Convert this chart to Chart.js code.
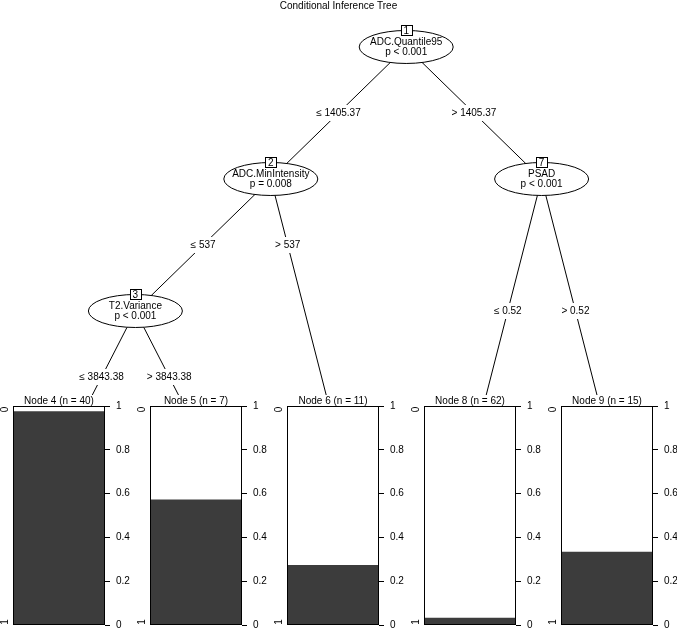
<!DOCTYPE html>
<html>
<head>
<meta charset="utf-8">
<script src="https://cdn.jsdelivr.net/npm/chart.js@4.4.1/dist/chart.umd.min.js"></script>
<style>
  body { margin: 0; background: #fff; overflow: hidden; }
  #wrap { position: relative; width: 677px; height: 629px; overflow: hidden; }
  #wrap canvas { position: absolute; }
  .leaf { background: #fff; }
</style>
</head>
<body>
<div id="wrap">
  <canvas id="tree" width="677" height="629" style="left:0;top:0"></canvas>
</div>
<script>
const FONT = "'Liberation Sans', Arial, Helvetica, sans-serif";
Chart.defaults.font.family = FONT;
Chart.defaults.font.size = 10;
Chart.defaults.color = '#000';

const chartTitle = 'Conditional Inference Tree';

// split nodes
const innerIds = [1, 2, 3, 7];
const innerVars = ['ADC.Quantile95', 'ADC.MinIntensity', 'T2.Variance', 'PSAD'];
const innerP = ['p < 0.001', 'p = 0.008', 'p < 0.001', 'p < 0.001'];
const innerCuts = ['1405.37', '537', '3843.38', '0.52'];
const innerKids = [[2, 7], [3, 6], [4, 5], [8, 9]];

// terminal nodes
const leafIds = [4, 5, 6, 8, 9];
const leafN = [40, 7, 11, 62, 15];
const leafShare1 = [0.975, 0.571, 0.273, 0.032, 0.333]; // dark part = class "1"
const classLabels = ['0', '1'];
const shareTicks = [0, 0.2, 0.4, 0.6, 0.8, 1];

// tree layout in leaf / depth units (partykit style)
const leafLevel = 3;
const pos = {};
function nLeaves(id) {
  const k = innerIds.indexOf(id);
  if (k < 0) return 1;
  return innerKids[k].reduce((s, c) => s + nLeaves(c), 0);
}
function place(id, start, depth) {
  const k = innerIds.indexOf(id);
  if (k < 0) { pos[id] = {x: start + 0.5, y: leafLevel}; return; }
  const [l, r] = innerKids[k];
  const nl = nLeaves(l);
  pos[id] = {x: start + nl, y: depth};
  place(l, start, depth + 1);
  place(r, start + nl, depth + 1);
}
place(1, 0, 0);

const edges = [];
innerIds.forEach((id, k) => {
  innerKids[k].forEach(kid => edges.push([id, kid]));
});

const treePlugin = {
  id: 'treeNodes',
  afterDatasetsDraw(chart) {
    const {ctx, scales: {x, y}} = chart;
    ctx.save();
    ctx.font = '10px ' + FONT;
    ctx.textAlign = 'center';
    ctx.textBaseline = 'middle';
    ctx.lineWidth = 1;
    ctx.strokeStyle = '#000';

    // edge labels
    innerIds.forEach((id, k) => {
      const p = pos[id];
      const kids = innerKids[k].map(c => pos[c]);
      const ly = p.y + Math.min(...kids.map(c => c.y - p.y)) / 2;
      kids.forEach((c, j) => {
        const lx = p.x + (c.x - p.x) * (ly - p.y) / (c.y - p.y);
        const text = (j === 0 ? '\u2264 ' : '> ') + innerCuts[k];
        const px = x.getPixelForValue(lx), py = y.getPixelForValue(ly);
        const w = ctx.measureText(text).width + 6;
        ctx.fillStyle = '#fff';
        ctx.fillRect(px - w / 2, py - 8, w, 16);
        ctx.fillStyle = '#000';
        ctx.fillText(text, px, py);
      });
    });

    // inner nodes
    innerIds.forEach((id, k) => {
      const cx = x.getPixelForValue(pos[id].x), cy = y.getPixelForValue(pos[id].y);
      ctx.beginPath();
      ctx.ellipse(cx, cy, 47, 16.5, 0, 0, Math.PI * 2);
      ctx.fillStyle = '#fff';
      ctx.fill();
      ctx.stroke();
      ctx.fillStyle = '#000';
      ctx.fillText(innerVars[k], cx, cy - 4.5);
      ctx.fillText(innerP[k], cx, cy + 5.5);
      const s = String(id);
      const bw = Math.round(ctx.measureText(s).width + 5);
      const bx = Math.round(cx - bw / 2) + 0.5, by = Math.round(cy - 16.5 - 5) + 0.5;
      ctx.fillStyle = '#fff';
      ctx.fillRect(bx, by, bw, 10);
      ctx.strokeRect(bx, by, bw, 10);
      ctx.fillStyle = '#000';
      ctx.fillText(s, cx, by + 5.5);
    });
    ctx.restore();
  }
};

new Chart(document.getElementById('tree'), {
  type: 'scatter',
  data: {
    datasets: edges.map(([a, b]) => ({
      data: [pos[a], pos[b]],
      showLine: true,
      pointRadius: 0,
      borderColor: '#000',
      borderWidth: 1
    }))
  },
  options: {
    responsive: false,
    animation: false,
    devicePixelRatio: 1,
    layout: {padding: 0},
    plugins: {
      legend: {display: false},
      tooltip: {enabled: false},
      title: {display: true, text: chartTitle, padding: 0, font: {size: 10, weight: 'normal', lineHeight: 1.2}}
    },
    scales: {
      x: {type: 'linear', display: false, min: 0, max: leafIds.length},
      y: {type: 'linear', display: false, reverse: true, min: -0.265, max: 4.409}
    }
  },
  plugins: [treePlugin]
});

// box + class labels of each terminal panel
const boxPlugin = {
  id: 'panelBox',
  afterDraw(chart) {
    const {ctx, chartArea: a} = chart;
    ctx.save();
    ctx.strokeStyle = '#000';
    ctx.lineWidth = 1;
    ctx.strokeRect(Math.round(a.left) + 0.5, Math.round(a.top) + 0.5, Math.round(a.width) - 1, Math.round(a.height) - 1);
    ctx.font = '10px ' + FONT;
    ctx.fillStyle = '#000';
    ctx.textAlign = 'center';
    ctx.textBaseline = 'middle';
    [[classLabels[0], a.top + 3.5], [classLabels[1], a.bottom - 3]].forEach(([t, yy]) => {
      ctx.save();
      ctx.translate(a.left - 8, yy);
      ctx.rotate(-Math.PI / 2);
      ctx.fillText(t, 0, 0);
      ctx.restore();
    });
    ctx.restore();
  }
};

const wrap = document.getElementById('wrap');
leafIds.forEach((id, i) => {
  const cv = document.createElement('canvas');
  cv.width = 135;
  cv.height = 241;
  cv.className = 'leaf';
  cv.style.left = (137 * i) + 'px';
  cv.style.top = '395px';
  wrap.appendChild(cv);
  new Chart(cv, {
    type: 'bar',
    data: {
      labels: [''],
      datasets: [
        {label: classLabels[1], data: [leafShare1[i]], backgroundColor: '#3c3c3c'},
        {label: classLabels[0], data: [1 - leafShare1[i]], backgroundColor: '#fff'}
      ]
    },
    options: {
      responsive: false,
      animation: false,
      devicePixelRatio: 1,
      layout: {padding: {left: 13, right: 0, top: 0, bottom: 5}},
      datasets: {bar: {barPercentage: 1, categoryPercentage: 1, borderWidth: 0}},
      plugins: {
        legend: {display: false},
        tooltip: {enabled: false},
        title: {
          display: true,
          text: 'Node ' + id + ' (n = ' + leafN[i] + ')',
          fullSize: false,
          padding: 0,
          font: {size: 10, weight: 'normal', lineHeight: 1}
        }
      },
      scales: {
        x: {stacked: true, display: false},
        y: {
          stacked: true,
          position: 'right',
          min: 0,
          max: 1,
          afterBuildTicks: s => { s.ticks = shareTicks.map(v => ({value: v})); },
          afterFit: s => { s.width = 30; },
          grid: {drawOnChartArea: false, tickLength: 5, color: '#000'},
          border: {display: false},
          ticks: {padding: 6, font: {size: 10, lineHeight: 1}, callback: v => String(+v.toFixed(1))}
        }
      }
    },
    plugins: [boxPlugin]
  });
});
</script>
</body>
</html>
